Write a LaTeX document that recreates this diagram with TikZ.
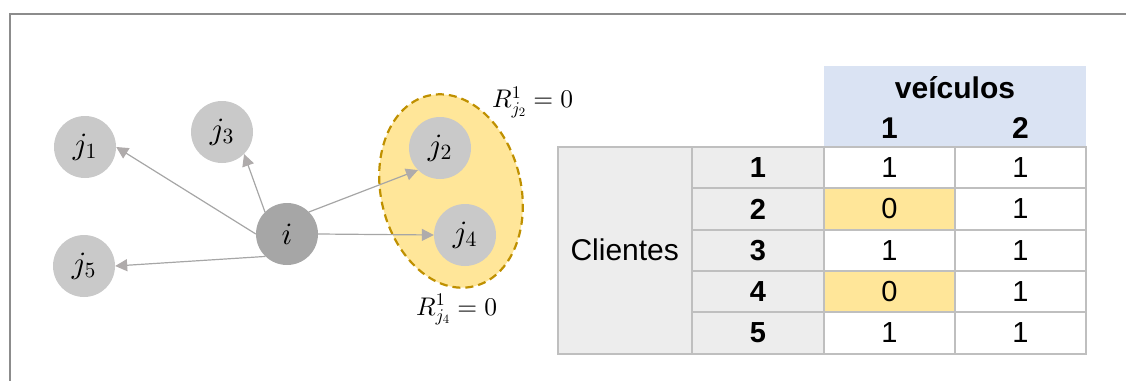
\documentclass[tikz,border=0pt]{standalone}
\usepackage{fontspec}
\setmainfont{Liberation Sans}
\usetikzlibrary{arrows.meta}

% scalable Computer Modern math fonts, for large formulas
\DeclareFontFamily{OML}{cmm}{\skewchar\font127 }
\DeclareFontShape{OML}{cmm}{m}{it}{<-7>cmmi5 <7-10>cmmi7 <10->cmmi10}{}
\DeclareFontFamily{OMS}{cmsy}{\skewchar\font48 }
\DeclareFontShape{OMS}{cmsy}{m}{n}{<-7>cmsy5 <7-10>cmsy7 <10->cmsy10}{}
\DeclareFontFamily{OT1}{cmr}{\hyphenchar\font45 }
\DeclareFontShape{OT1}{cmr}{m}{n}{<-7>cmr5 <7-10>cmr7 <10->cmr10}{}

\definecolor{framegray}{HTML}{8C8C8C}
\definecolor{nodegray}{HTML}{C9C9C9}
\definecolor{srcgray}{HTML}{A6A6A6}
\definecolor{edgegray}{HTML}{A6A6A6}
\definecolor{tipgray}{HTML}{AFABAB}
\definecolor{setfill}{HTML}{FFE699}
\definecolor{setline}{HTML}{BF9000}
\definecolor{gridgray}{HTML}{BFBFBF}
\definecolor{rowhead}{HTML}{EDEDED}
\definecolor{headblue}{HTML}{DAE3F3}

\tikzset{
  client/.style={circle, fill=nodegray, minimum size=62pt, inner sep=0pt,
                 font=\fontsize{31}{35}\selectfont},
  depot/.style={client, fill=srcgray},
  link/.style={draw=edgegray, line width=1.2pt,
               -{Triangle[length=12pt, width=12pt, color=tipgray, fill=tipgray]}},
  cell/.style={draw=gridgray, line width=2pt, inner sep=0pt,
               minimum height=41.3pt, font=\fontsize{29}{34}\selectfont},
  numcell/.style={cell, fill=rowhead, minimum width=132pt, font=\fontsize{29}{34}\selectfont\bfseries},
  valcell/.style={cell, fill=white, minimum width=131pt},
  zerocell/.style={valcell, fill=setfill},
  heading/.style={font=\fontsize{30}{34}\selectfont\bfseries, inner sep=0pt},
  rlabel/.style={font=\fontsize{25.5}{30}\selectfont, inner sep=0pt}
}

\begin{document}
\begin{tikzpicture}[x=1pt, y=1pt]
\useasboundingbox (0,0) rectangle (1126,381);

% outer frame (top and left edges)
\draw[framegray, line width=2.5pt] (1126,367) -- (10,367) -- (10,0);

% highlighted set of clients
\draw[setline, fill=setfill, line width=2.2pt, dash pattern=on 8pt off 5pt]
  (451,190) [rotate around={13.5:(451,190)}] ellipse (70 and 98);

% graph nodes
\node[client] (j1) at (85,234) {$j_1$};
\node[client] (j3) at (222,249) {$j_3$};
\node[client] (j5) at (84,115) {$j_5$};
\node[depot]  (i)  at (287,147) {$i$};
\node[client] (j2) at (440,233) {$j_2$};
\node[client] (j4) at (465,146) {$j_4$};

% connectors
\draw[link] (i.west) -- (j1.east);
\draw[link] (i.135) -- (j3.-45);
\draw[link] (i.226) -- (j5.east);
\draw[link] (i.45) -- (j2.225);
\draw[link] (i.east) -- (j4.west);

% labels of the set
\node[rlabel, anchor=base west] (r2) at (492,273) {$R^1_{j_2}=0$};
\node[rlabel, anchor=base west] (r4) at (416,66) {$R^1_{j_4}=0$};

% table header
\fill[headblue] (824,234) rectangle (1086,315);
\node[heading, anchor=base] (hveh) at (955,283) {veículos};
\node[heading, anchor=base] (hv1) at (889.5,243) {1};
\node[heading, anchor=base] (hv2) at (1020.5,243) {2};

% row header
\node[cell, fill=rowhead, minimum width=134.5pt, minimum height=206.5pt,
      font=\fontsize{30}{34}\selectfont] (cli) at (624.75,130.75) {Clientes};

% rows
\node[numcell]  (n1) at (758,213.35) {1};
\node[valcell]  (a1) at (889.5,213.35) {1};
\node[valcell]  (b1) at (1020.5,213.35) {1};

\node[numcell]  (n2) at (758,172.05) {2};
\node[zerocell] (a2) at (889.5,172.05) {0};
\node[valcell]  (b2) at (1020.5,172.05) {1};

\node[numcell]  (n3) at (758,130.75) {3};
\node[valcell]  (a3) at (889.5,130.75) {1};
\node[valcell]  (b3) at (1020.5,130.75) {1};

\node[numcell]  (n4) at (758,89.45) {4};
\node[zerocell] (a4) at (889.5,89.45) {0};
\node[valcell]  (b4) at (1020.5,89.45) {1};

\node[numcell]  (n5) at (758,48.15) {5};
\node[valcell]  (a5) at (889.5,48.15) {1};
\node[valcell]  (b5) at (1020.5,48.15) {1};
\end{tikzpicture}
\end{document}
